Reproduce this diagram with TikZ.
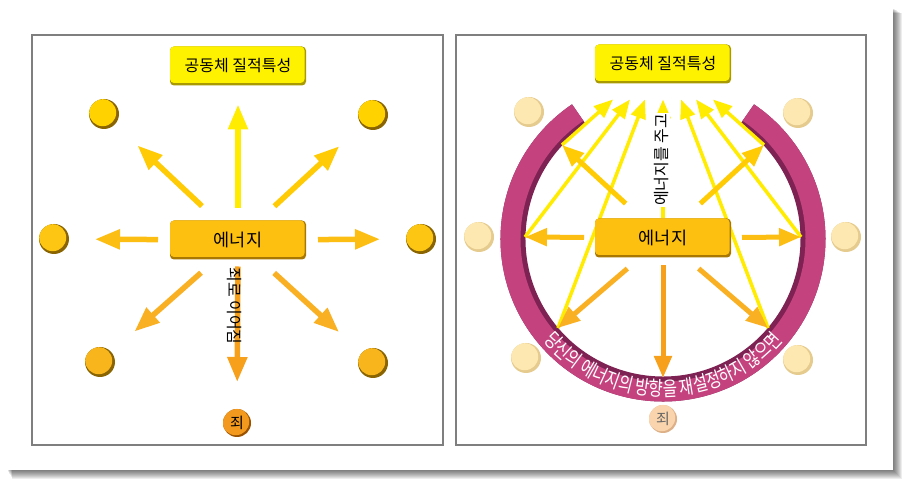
\documentclass[tikz,border=0pt]{standalone}
\usepackage{fontspec}
\newfontfamily\kr{Noto Sans CJK KR}
\newfontfamily\krnarrow{Noto Sans CJK KR}[FakeStretch=0.78]
\usetikzlibrary{arrows.meta,decorations.text}

\definecolor{topyellow}{HTML}{FFF200}
\definecolor{topshade}{HTML}{A89A00}
\definecolor{energy}{HTML}{FDC010}
\definecolor{energyshade}{HTML}{A87800}
\definecolor{goldtop}{HTML}{FFD200}
\definecolor{goldmid}{HTML}{FDC612}
\definecolor{goldlow}{HTML}{F9B51C}
\definecolor{goldshade}{HTML}{8A6400}
\definecolor{sinorange}{HTML}{F39A1E}
\definecolor{sinshade}{HTML}{9A5200}
\definecolor{pale}{HTML}{FDE8B2}
\definecolor{paleshade}{HTML}{E6CB8E}
\definecolor{palesin}{HTML}{F9D4AC}
\definecolor{palesinshade}{HTML}{DEB088}
\definecolor{yup}{HTML}{FFEC00}
\definecolor{ydiag}{HTML}{FFCB05}
\definecolor{oside}{HTML}{FDBE14}
\definecolor{olow}{HTML}{F9B123}
\definecolor{odown}{HTML}{F6A01C}
\definecolor{ring}{HTML}{C4437F}
\definecolor{ringdark}{HTML}{7E2253}
\definecolor{frame}{HTML}{7F7F7F}

\pgfdeclarelayer{paper}
\pgfdeclarelayer{behind}
\pgfsetlayers{paper,behind,main}

\begin{document}
\begin{tikzpicture}[x=1pt,y=1pt,
    bevelbox/.style 2 args={rounded corners=4pt,minimum width=136pt,minimum height=39pt,inner sep=0pt,outer sep=0pt,fill=#2,
      font=\kr\fontsize{16}{18}\selectfont,
      path picture={\fill[#1,rounded corners=4pt] ([yshift=2.5pt]path picture bounding box.south west) rectangle ([xshift=-1.5pt]path picture bounding box.north east);}},
    ball/.style 2 args={circle,minimum size=30pt,inner sep=0pt,outer sep=0pt,fill=#2,
      path picture={\fill[#1] ([shift={(-1.3pt,1.3pt)}]path picture bounding box.center) circle (13.5pt);}},
    bigarrow/.style={line width=5.5pt,-{Triangle[width=19pt,length=25pt]}},
    midarrow/.style={line width=5pt,-{Triangle[width=17pt,length=22pt]}},
    thinarrow/.style={draw=yup,line width=3.5pt,-{Triangle[width=15pt,length=19pt]}},
    vtext/.style={font=\kr\fontsize{16}{18}\selectfont,inner sep=1pt}]
    \useasboundingbox (0,0) rectangle (910,487);
    \begin{pgfonlayer}{paper}
        \fill[white] (0,0) rectangle (910,487);
        \foreach \s in {1,...,9}
            \fill[black,opacity=0.07] (7+0.6*\s,17-\s) rectangle (893+\s,479-0.6*\s);
        \fill[white] (7,17) rectangle (893,479);
        \draw[frame,line width=1.6pt] (32,42) rectangle (443,452);
        \draw[frame,line width=1.6pt] (456,42) rectangle (866,452);
    \end{pgfonlayer}

    % left panel
    \node (topL) at (238,421) [bevelbox={topyellow}{topshade}] {공동체 질적특성};
    \node (energyL) at (238,247) [bevelbox={energy}{energyshade},font=\kr\fontsize{17.5}{20}\selectfont] {에너지};

    \node (tlL) at (104,373) [ball={goldtop}{goldshade}] {};
    \node (trL) at (373,372) [ball={goldtop}{goldshade}] {};
    \node (lL) at (54,248) [ball={goldmid}{goldshade}] {};
    \node (rL) at (421,248) [ball={goldmid}{goldshade}] {};
    \node (blL) at (100,125) [ball={goldlow}{goldshade}] {};
    \node (brL) at (373,124) [ball={goldlow}{goldshade}] {};
    \node (sinL) at (237,64) [ball={sinorange}{sinshade},minimum size=28pt,font=\kr\fontsize{15}{17}\selectfont] {죄};

    \draw[bigarrow,draw=yup,shorten <=12pt,shorten >=19pt] (energyL) -- (topL);
    \draw[bigarrow,draw=ydiag,shorten <=21pt,shorten >=31pt] (energyL) -- (tlL);
    \draw[bigarrow,draw=ydiag,shorten <=21pt,shorten >=31pt] (energyL) -- (trL);
    \draw[bigarrow,draw=oside,shorten <=12pt,shorten >=26pt] (energyL) -- (lL);
    \draw[bigarrow,draw=oside,shorten <=12pt,shorten >=26pt] (energyL) -- (rL);
    \draw[bigarrow,draw=olow,shorten <=20pt,shorten >=31pt] (energyL) -- (blL);
    \draw[bigarrow,draw=olow,shorten <=20pt,shorten >=31pt] (energyL) -- (brL);
    \draw[bigarrow,draw=odown,shorten <=7pt,shorten >=27pt] (energyL) -- (sinL);

    \node (sinroad) at (234,181) [vtext,rotate=-90] {죄로 이어짐};

    % right panel
    \coordinate (ringC) at (663,248);
    \begin{pgfonlayer}{paper}
        \draw[ringdark,line width=25pt] (ringC) ++(124:150) arc[start angle=124,end angle=416,radius=150];
        \draw[ring,line width=20pt] (ringC) ++(124:152.5) arc[start angle=124,end angle=416,radius=152.5];
        \path[decorate,decoration={text along path,text align=center,text color=white,
            text={|\krnarrow\fontsize{20}{22}\selectfont|당신의 에너지의 방향을 재설정하지 않으면}}]
            (ringC) ++(180:157) arc[start angle=180,end angle=360,radius=157];
    \end{pgfonlayer}

    \node (topR) at (663,423) [bevelbox={topyellow}{topshade}] {공동체 질적특성};
    \node (energyR) at (663,249) [bevelbox={energy}{energyshade},font=\kr\fontsize{17.5}{20}\selectfont] {에너지};

    \node (tlR) at (529,375) [ball={pale}{paleshade}] {};
    \node (trR) at (798,374) [ball={pale}{paleshade}] {};
    \node (lR) at (479,250) [ball={pale}{paleshade}] {};
    \node (rR) at (846,250) [ball={pale}{paleshade}] {};
    \node (blR) at (526,129) [ball={pale}{paleshade}] {};
    \node (brR) at (798,127) [ball={pale}{paleshade}] {};
    \node (sinR) at (663,68) [ball={palesin}{palesinshade},minimum size=28pt,text=black!60,font=\kr\fontsize{15}{17}\selectfont] {죄};

    \coordinate (ulTip) at (562,342);
    \coordinate (urTip) at (764,342);
    \coordinate (lTip) at (525,250);
    \coordinate (rTip) at (801,250);
    \coordinate (llTip) at (558,159);
    \coordinate (lrTip) at (768,159);
    \coordinate (dTip) at (663,109);

    \begin{pgfonlayer}{behind}
        \draw[thinarrow] (ulTip) -- ([xshift=-50pt,yshift=-16pt]topR.south);
        \draw[thinarrow] (lTip) -- ([xshift=-33pt,yshift=-16pt]topR.south);
        \draw[thinarrow] (llTip) -- ([xshift=-18pt,yshift=-16pt]topR.south);
        \draw[thinarrow] (energyR) -- ([yshift=-16pt]topR.south);
        \draw[thinarrow] (lrTip) -- ([xshift=18pt,yshift=-16pt]topR.south);
        \draw[thinarrow] (rTip) -- ([xshift=33pt,yshift=-16pt]topR.south);
        \draw[thinarrow] (urTip) -- ([xshift=50pt,yshift=-16pt]topR.south);
    \end{pgfonlayer}

    \draw[midarrow,draw=ydiag,shorten <=22pt] (energyR) -- (ulTip);
    \draw[midarrow,draw=ydiag,shorten <=22pt] (energyR) -- (urTip);
    \draw[midarrow,draw=oside,shorten <=11pt] (energyR) -- (lTip);
    \draw[midarrow,draw=oside,shorten <=11pt] (energyR) -- (rTip);
    \draw[midarrow,draw=olow,shorten <=17pt] (energyR) -- (llTip);
    \draw[midarrow,draw=olow,shorten <=17pt] (energyR) -- (lrTip);
    \draw[midarrow,draw=odown,shorten <=8pt] (energyR) -- (dTip);

    \node (giveR) at (662,327) [vtext,rotate=90,fill=white] {에너지를 주고};
\end{tikzpicture}
\end{document}
